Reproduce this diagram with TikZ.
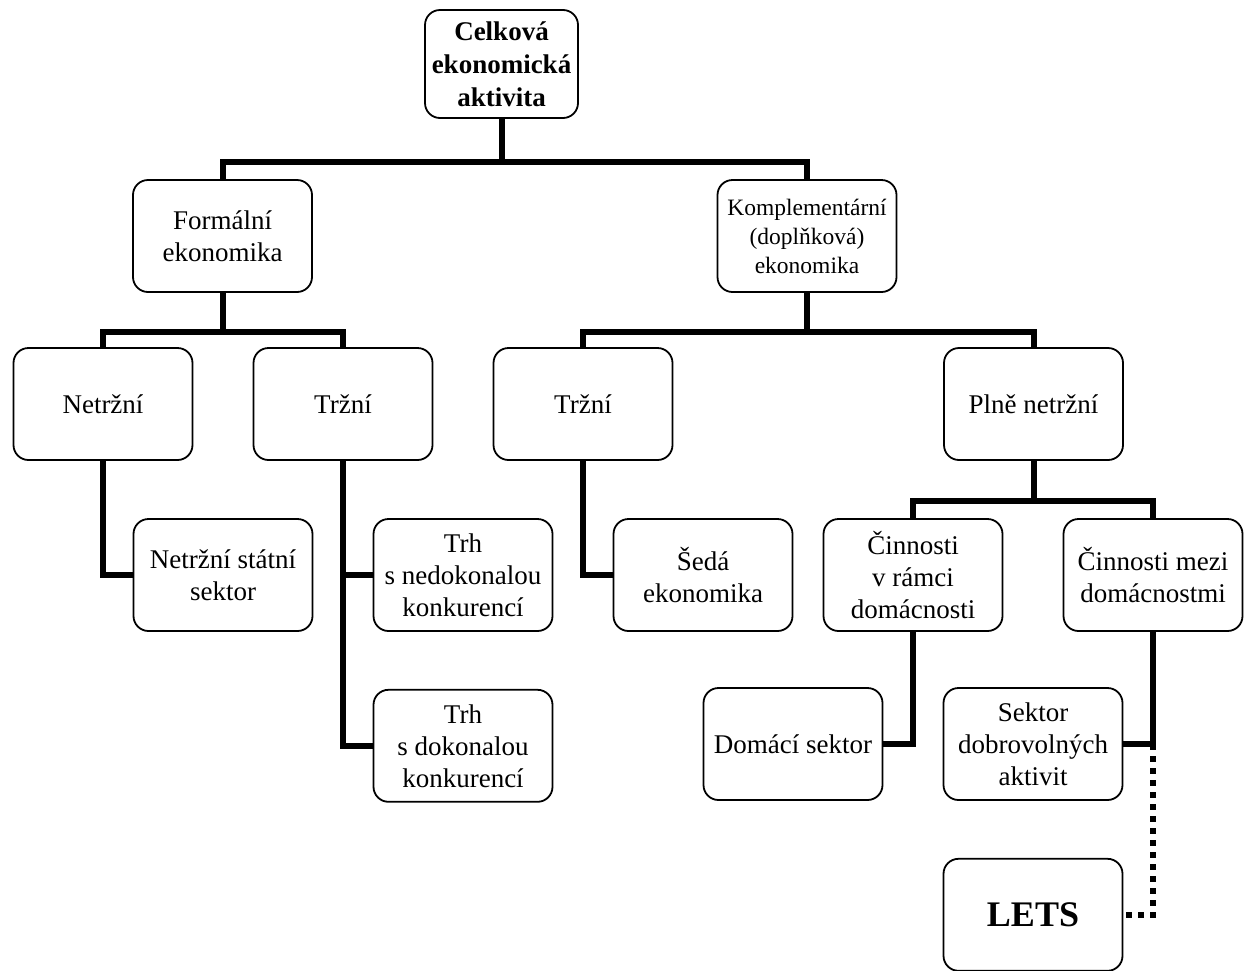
\documentclass[tikz,border=0pt]{standalone}
\usepackage{fontspec}
\setmainfont{Liberation Serif}
\usepackage{tikz}
\usetikzlibrary{positioning, calc}

\begin{document}
\begin{tikzpicture}[
    x=1pt, y=1pt,
    box/.style={draw, line width=1.8pt, rounded corners=15pt, minimum width=179pt, minimum height=112pt, inner sep=2pt, align=center, font=\fontsize{27}{32}\selectfont},
    conn/.style={line width=6pt},
    dots/.style={line width=5.5pt, dash pattern=on 6pt off 6pt}
]
    \useasboundingbox (0,0) rectangle (1244,-970);

    % Top levels
    \node[box, minimum width=153pt, minimum height=108pt, font=\bfseries\fontsize{27}{33}\selectfont] (celkova) at (501.5,-64) {Celková\\ekonomická\\aktivita};
    \node[box] (formal) at (222.5,-236) {Formální\\ekonomika};
    \node[box, font=\fontsize{23.5}{29}\selectfont] (kompl) at (807,-236) {Komplementární\\(doplňková)\\ekonomika};

    % Second level
    \node[box] (netrzni) at (103,-404) {Netržní};
    \node[box] (trzni) at (343,-404) {Tržní};
    \node[box] (trznik) at (583,-404) {Tržní};
    \node[box] (plne) at (1033.5,-404) {Plně netržní};

    % Third level
    \node[box] (statni) at (223,-575) {Netržní státní\\sektor};
    \node[box] (nedok) at (463,-575) {Trh\\s nedokonalou\\konkurencí};
    \node[box, below=57pt of nedok] (dokon) {Trh\\s dokonalou\\konkurencí};
    \node[box] (seda) at (703,-575) {Šedá\\ekonomika};
    \node[box] (vramci) at (913,-575) {Činnosti\\v rámci\\domácnosti};
    \node[box] (mezi) at (1153,-575) {Činnosti mezi\\domácnostmi};
    \node[box] (domaci) at (793,-744) {Domácí sektor};
    \node[box] (dobrovol) at (1033,-744) {Sektor\\dobrovolných\\aktivit};
    \node[box, below=57pt of dobrovol, font=\bfseries\fontsize{36}{43}\selectfont] (lets) {LETS};

    % Tree branches
    \draw[conn] (celkova.south) -- ++(0,-43) coordinate (b0);
    \draw[conn] (formal.north) |- (b0) -| (kompl.north);
    \draw[conn] (formal.south) -- ++(0,-39) coordinate (b1);
    \draw[conn] (netrzni.north) |- (b1) -| (trzni.north);
    \draw[conn] (kompl.south) -- ++(0,-39) coordinate (b2);
    \draw[conn] (trznik.north) |- (b2) -| (plne.north);
    \draw[conn] (plne.south) -- ++(0,-40) coordinate (b3);
    \draw[conn] (vramci.north) |- (b3) -| (mezi.north);

    % Single children
    \draw[conn] (netrzni.south) |- (statni.west);
    \draw[conn] (trzni.south) |- (nedok.west);
    \draw[conn] (trzni.south) |- (dokon.west);
    \draw[conn] (trznik.south) |- (seda.west);
    \draw[conn] (vramci.south) |- (domaci.east);
    \draw[conn] (mezi.south) |- (dobrovol.east);
    \draw[dots] (mezi.south |- dobrovol.east) |- (lets.east);
\end{tikzpicture}
\end{document}
